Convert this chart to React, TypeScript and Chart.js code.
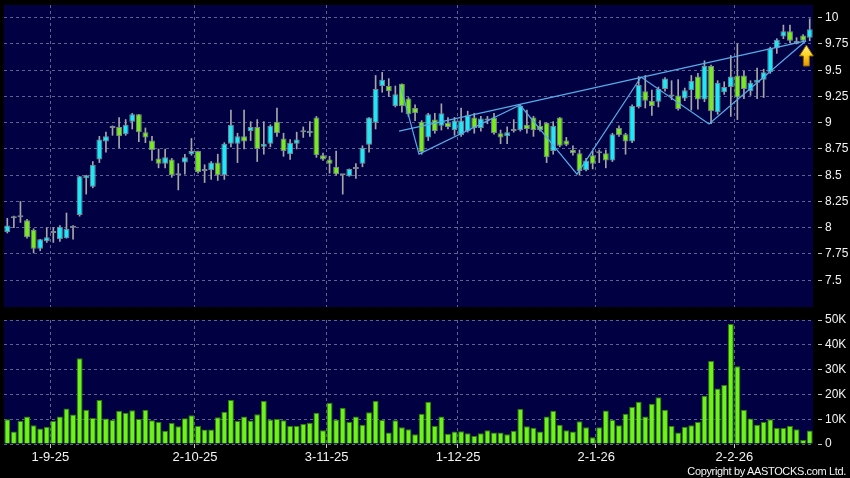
import React, { useEffect, useRef } from 'react';
import { Chart, registerables } from 'chart.js';

Chart.register(...registerables);

// ---------- DATA ----------
const dates = [
  '21-8-25','22-8-25','25-8-25','26-8-25','27-8-25','28-8-25','29-8-25',
  '1-9-25','2-9-25','3-9-25','4-9-25','5-9-25','8-9-25','9-9-25','10-9-25','11-9-25','12-9-25','15-9-25','16-9-25','17-9-25','18-9-25','19-9-25','22-9-25','23-9-25','24-9-25','25-9-25','26-9-25','29-9-25','30-9-25',
  '2-10-25','3-10-25','6-10-25','8-10-25','9-10-25','10-10-25','13-10-25','14-10-25','15-10-25','16-10-25','17-10-25','20-10-25','21-10-25','22-10-25','23-10-25','24-10-25','27-10-25','28-10-25','30-10-25','31-10-25',
  '3-11-25','4-11-25','5-11-25','6-11-25','7-11-25','10-11-25','11-11-25','12-11-25','13-11-25','14-11-25','17-11-25','18-11-25','19-11-25','20-11-25','21-11-25','24-11-25','25-11-25','26-11-25','27-11-25','28-11-25',
  '1-12-25','2-12-25','3-12-25','4-12-25','5-12-25','8-12-25','9-12-25','10-12-25','11-12-25','12-12-25','15-12-25','16-12-25','17-12-25','18-12-25','19-12-25','22-12-25','23-12-25','24-12-25','29-12-25','30-12-25','31-12-25',
  '2-1-26','5-1-26','6-1-26','7-1-26','8-1-26','9-1-26','12-1-26','13-1-26','14-1-26','15-1-26','16-1-26','19-1-26','20-1-26','21-1-26','22-1-26','23-1-26','26-1-26','27-1-26','28-1-26','29-1-26','30-1-26',
  '2-2-26','3-2-26','4-2-26','5-2-26','6-2-26','9-2-26','10-2-26','11-2-26','12-2-26','13-2-26','16-2-26','20-2-26',
];

const tickDates = ['1-9-25', '2-10-25', '3-11-25', '1-12-25', '2-1-26', '2-2-26'];

const opens = [
  7.96, 8.09, 8.10, 8.07, 7.98, 7.80, 7.87, 7.95, 7.89, 7.90,
  8.00, 8.12, 8.47, 8.39, 8.65, 8.82, 8.95, 8.96, 8.89, 9.01,
  9.08, 8.91, 8.83, 8.66, 8.61, 8.65, 8.50, 8.62, 8.70, 8.73,
  8.54, 8.55, 8.62, 8.50, 8.80, 8.80, 8.87, 8.92, 8.96, 8.77,
  8.80, 9.01, 8.85, 8.70, 8.80, 8.91, 8.90, 9.05, 8.69, 8.65,
  8.58, 8.50, 8.49, 8.56, 8.61, 8.79, 9.00, 9.35, 9.35, 9.16,
  9.37, 9.23, 9.14, 9.01, 8.86, 9.03, 8.97, 9.00, 8.93, 8.88,
  8.92, 9.05, 8.95, 9.02, 9.05, 8.90, 8.87, 8.92, 8.93, 8.98,
  9.05, 8.97, 9.00, 8.73, 9.05, 8.83, 8.74, 8.71, 8.55, 8.69,
  8.71, 8.71, 8.64, 8.95, 8.89, 8.82, 9.15, 9.30, 9.21, 9.20,
  9.32, 9.25, 9.26, 9.23, 9.31, 9.44, 9.22, 9.54, 9.10, 9.29,
  9.34, 9.45, 9.45, 9.30, 9.38, 9.41, 9.48, 9.71, 9.82, 9.87,
  9.76, 9.83, 9.81,
];

const highs = [
  8.09, 8.11, 8.25, 8.08, 7.99, 7.89, 8.00, 8.00, 8.02, 8.14,
  8.02, 8.49, 8.50, 8.63, 8.87, 8.91, 8.97, 9.05, 9.03, 9.09,
  9.08, 8.95, 8.87, 8.75, 8.75, 8.66, 8.61, 8.70, 8.85, 8.73,
  8.60, 8.63, 8.70, 8.81, 9.12, 8.90, 9.12, 9.01, 9.03, 9.01,
  8.98, 9.14, 8.90, 8.84, 8.91, 8.96, 9.01, 9.06, 8.71, 8.68,
  8.73, 8.50, 8.56, 8.61, 8.78, 9.05, 9.45, 9.48, 9.42, 9.35,
  9.37, 9.24, 9.17, 9.02, 9.09, 9.09, 9.18, 9.05, 9.05, 9.14,
  9.11, 9.09, 9.06, 9.06, 9.09, 8.93, 8.96, 9.03, 9.17, 9.12,
  9.06, 9.02, 9.00, 9.01, 9.05, 8.86, 8.78, 8.74, 8.66, 8.73,
  8.74, 8.74, 8.90, 8.97, 8.90, 9.17, 9.44, 9.45, 9.31, 9.34,
  9.43, 9.40, 9.41, 9.33, 9.45, 9.47, 9.59, 9.55, 9.40, 9.39,
  9.64, 9.75, 9.49, 9.40, 9.52, 9.51, 9.72, 9.80, 9.93, 9.93,
  9.81, 9.84, 9.99,
];

const lows = [
  7.95, 8.00, 8.05, 7.90, 7.76, 7.78, 7.86, 7.86, 7.87, 7.90,
  7.89, 8.11, 8.32, 8.38, 8.62, 8.72, 8.88, 8.76, 8.88, 8.94,
  8.82, 8.81, 8.64, 8.57, 8.57, 8.48, 8.36, 8.51, 8.69, 8.52,
  8.43, 8.46, 8.45, 8.46, 8.77, 8.62, 8.75, 8.83, 8.63, 8.70,
  8.77, 8.87, 8.68, 8.65, 8.75, 8.86, 8.87, 8.67, 8.64, 8.52,
  8.50, 8.32, 8.49, 8.47, 8.58, 8.72, 8.94, 9.29, 9.25, 9.15,
  9.10, 9.06, 9.02, 8.70, 8.83, 8.90, 8.93, 8.94, 8.88, 8.87,
  8.91, 8.90, 8.92, 8.99, 8.89, 8.80, 8.80, 8.91, 8.92, 8.90,
  8.87, 8.92, 8.62, 8.70, 8.77, 8.78, 8.69, 8.50, 8.54, 8.56,
  8.62, 8.57, 8.63, 8.87, 8.70, 8.81, 9.14, 9.14, 9.07, 9.15,
  9.30, 9.22, 9.12, 9.21, 9.12, 9.13, 9.20, 8.99, 9.08, 9.27,
  9.06, 9.03, 9.23, 9.26, 9.23, 9.24, 9.47, 9.66, 9.80, 9.76,
  9.75, 9.77, 9.78,
];

const closes = [
  8.02, 8.09, 8.10, 7.91, 7.80, 7.89, 7.91, 7.95, 8.01, 7.99,
  8.00, 8.49, 8.50, 8.60, 8.84, 8.87, 8.95, 8.87, 8.98, 9.08,
  8.91, 8.86, 8.74, 8.61, 8.67, 8.50, 8.50, 8.67, 8.73, 8.53,
  8.54, 8.62, 8.50, 8.80, 8.98, 8.87, 8.82, 8.96, 8.75, 8.80,
  8.97, 8.90, 8.73, 8.81, 8.84, 8.91, 8.92, 8.69, 8.65, 8.61,
  8.51, 8.50, 8.56, 8.56, 8.76, 9.05, 9.32, 9.41, 9.30, 9.27,
  9.16, 9.08, 9.09, 8.72, 9.08, 8.92, 9.09, 8.96, 9.02, 9.02,
  9.07, 8.95, 9.04, 9.04, 8.90, 8.86, 8.91, 8.94, 9.16, 8.94,
  8.93, 8.93, 8.67, 8.97, 8.78, 8.79, 8.71, 8.54, 8.64, 8.61,
  8.71, 8.64, 8.89, 8.88, 8.82, 9.16, 9.36, 9.21, 9.16, 9.32,
  9.42, 9.25, 9.13, 9.31, 9.40, 9.22, 9.54, 9.11, 9.38, 9.34,
  9.44, 9.24, 9.32, 9.38, 9.41, 9.48, 9.71, 9.79, 9.87, 9.78,
  9.76, 9.78, 9.89,
];

// volume in thousands of shares
const volumesK = [
  10.0, 5.0, 9.3, 11.1, 7.6, 6.2, 7.0, 9.3, 11.1, 14.3,
  11.9, 34.6, 13.8, 10.5, 17.7, 10.3, 9.7, 13.4, 12.6, 13.6,
  10.1, 13.8, 9.6, 8.9, 5.3, 8.5, 7.2, 10.4, 11.6, 7.3,
  5.8, 5.8, 10.8, 13.0, 17.7, 9.3, 11.1, 9.5, 12.0, 17.3,
  9.9, 10.1, 9.6, 7.3, 7.3, 8.1, 8.6, 12.6, 5.5, 16.6,
  9.9, 14.6, 8.9, 11.1, 7.8, 12.8, 17.3, 9.7, 4.6, 9.6,
  6.8, 5.9, 3.9, 12.2, 17.0, 7.3, 11.1, 4.1, 5.0, 5.1,
  4.3, 3.2, 4.3, 5.5, 4.6, 4.6, 3.9, 5.3, 14.1, 7.2,
  6.6, 5.0, 11.1, 13.4, 7.8, 5.5, 5.0, 9.2, 6.8, 2.7,
  6.8, 13.5, 9.7, 7.6, 12.2, 14.9, 17.0, 11.1, 16.2, 18.9,
  13.8, 7.3, 4.6, 7.0, 7.6, 8.9, 19.5, 33.5, 22.4, 23.8,
  48.4, 31.4, 13.8, 10.3, 7.8, 8.9, 10.0, 6.5, 6.5, 7.3,
  5.9, 1.6, 5.4,
];

const priceTicks = [7.5, 7.75, 8, 8.25, 8.5, 8.75, 9, 9.25, 9.5, 9.75, 10];
const volumeTicks = [0, 10, 20, 30, 40, 50];

// trend lines (x = fractional bar index, y = price)
const zigzagX = [59.8, 62.6, 77.96, 86.62, 96.35, 106.69, 121.44];
const zigzagY = [9.349, 8.701, 9.168, 8.51, 9.435, 8.987, 9.78];
const channelX = [59.56, 121.44];
const channelY = [8.92, 9.78];

// marker arrow (tip position)
const arrowX = 121.49;
const arrowY = 9.74;

// ---------- STYLE ----------
const NAVY = '#000042';
const GRID = '#62628f';
const UP = '#1ee8f8';
const DOWN = '#78ea1e';
const DOJI = '#9a9a9a';
const WICK = '#a6a6a6';
const BODY_BORDER = '#7a8890';
const LINE = '#55acea';
const VOL = '#6ef21a';
const VOL_BORDER = '#2e7c0c';
const TEXT = '#f4f4f4';
const FONT = '"Liberation Sans", Arial, sans-serif';
const TRANSPARENT = 'rgba(0,0,0,0)';

Chart.defaults.font.family = FONT;

const bgPlugin = {
  id: 'plotBg',
  beforeDraw(chart: any) {
    const { ctx, chartArea: a } = chart;
    ctx.save();
    ctx.fillStyle = NAVY;
    ctx.fillRect(a.left, a.top, a.right - a.left, a.bottom - a.top);
    ctx.restore();
  },
};

const arrowPlugin = {
  id: 'arrowMarker',
  afterDatasetsDraw(chart: any) {
    const ctx = chart.ctx;
    const x = chart.scales.xl.getPixelForValue(arrowX);
    const y = chart.scales.y.getPixelForValue(arrowY);
    ctx.save();
    const g = ctx.createLinearGradient(0, y, 0, y + 21);
    g.addColorStop(0, '#fff38a');
    g.addColorStop(0.5, '#ffd21e');
    g.addColorStop(1, '#e89400');
    ctx.beginPath();
    ctx.moveTo(x, y);
    ctx.lineTo(x + 7, y + 11);
    ctx.lineTo(x + 3, y + 11);
    ctx.lineTo(x + 3, y + 21);
    ctx.lineTo(x - 3, y + 21);
    ctx.lineTo(x - 3, y + 11);
    ctx.lineTo(x - 7, y + 11);
    ctx.closePath();
    ctx.fillStyle = g;
    ctx.fill();
    ctx.strokeStyle = '#8a6400';
    ctx.lineWidth = 1;
    ctx.stroke();
    ctx.restore();
  },
};

const xGridColor = (ctx: any) =>
  tickDates.includes(dates[ctx.index]) ? GRID : TRANSPARENT;

function priceConfig(): any {
  const bodyColors = opens.map((o, i) =>
    closes[i] > o ? UP : closes[i] < o ? DOWN : DOJI
  );
  return {
    type: 'bar',
    data: {
      labels: dates,
      datasets: [
        {
          type: 'line',
          xAxisID: 'xl',
          yAxisID: 'y',
          data: channelX.map((x, i) => ({ x, y: channelY[i] })),
          borderColor: LINE,
          borderWidth: 1.2,
          pointRadius: 0,
          order: 0,
        },
        {
          type: 'line',
          xAxisID: 'xl',
          yAxisID: 'y',
          data: zigzagX.map((x, i) => ({ x, y: zigzagY[i] })),
          borderColor: LINE,
          borderWidth: 1.2,
          pointRadius: 0,
          tension: 0,
          order: 0,
        },
        {
          type: 'bar',
          xAxisID: 'x',
          yAxisID: 'y',
          data: opens.map((o, i) => [o, closes[i]]),
          backgroundColor: bodyColors,
          borderColor: BODY_BORDER,
          borderWidth: 1,
          borderSkipped: false,
          minBarLength: 2,
          grouped: false,
          barPercentage: 0.9,
          categoryPercentage: 1,
          order: 1,
        },
        {
          type: 'bar',
          xAxisID: 'x',
          yAxisID: 'y',
          data: lows.map((l, i) => [l, highs[i]]),
          backgroundColor: WICK,
          barThickness: 1,
          grouped: false,
          order: 2,
        },
      ],
    },
    options: {
      responsive: false,
      animation: false,
      events: [],
      layout: { padding: { left: 4, top: 5, right: 0, bottom: 5 } },
      plugins: { legend: { display: false }, tooltip: { enabled: false } },
      scales: {
        x: {
          type: 'category',
          offset: true,
          grid: { offset: true, color: xGridColor, drawTicks: false },
          border: { display: false, dash: [3, 3] },
          ticks: { display: false, autoSkip: false },
          afterFit: (s: any) => {
            s.height = 0;
            s.paddingLeft = 0;
            s.paddingRight = 0;
          },
        },
        xl: {
          type: 'linear',
          display: false,
          offset: false,
          bounds: 'data',
          min: -0.5,
          max: dates.length - 0.5,
          afterBuildTicks: (s: any) => {
            s.min = -0.5;
            s.max = dates.length - 0.5;
          },
        },
        y: {
          type: 'linear',
          position: 'right',
          min: 7.245,
          max: 10.121,
          afterBuildTicks: (s: any) => {
            s.ticks = priceTicks.map((v) => ({ value: v }));
          },
          grid: {
            color: GRID,
            tickColor: '#c8c8c8',
            tickLength: 9,
            tickBorderDash: [0, 5, 4, 20],
          },
          border: { display: false, dash: [3, 3] },
          ticks: {
            color: TEXT,
            padding: 3,
            font: { family: FONT, size: 12 },
            callback: (v: any) => String(v),
          },
          afterFit: (s: any) => {
            s.width = 37;
            s.paddingTop = 0;
            s.paddingBottom = 0;
          },
        },
      },
    },
    plugins: [bgPlugin, arrowPlugin],
  };
}

function volumeConfig(): any {
  return {
    type: 'bar',
    data: {
      labels: dates,
      datasets: [
        {
          data: volumesK,
          backgroundColor: VOL,
          borderColor: VOL_BORDER,
          borderWidth: 1,
          barPercentage: 0.9,
          categoryPercentage: 1,
        },
      ],
    },
    options: {
      responsive: false,
      animation: false,
      events: [],
      layout: { padding: { left: 4, top: 8, right: 0, bottom: 0 } },
      plugins: { legend: { display: false }, tooltip: { enabled: false } },
      scales: {
        x: {
          type: 'category',
          offset: true,
          grid: {
            offset: true,
            color: xGridColor,
            tickLength: 4,
            tickColor: (c: any) =>
              tickDates.includes(dates[c.index]) ? '#c8c8c8' : TRANSPARENT,
          },
          border: { display: false, dash: [3, 3] },
          ticks: {
            autoSkip: false,
            maxRotation: 0,
            minRotation: 0,
            color: TEXT,
            padding: 2,
            labelOffset: -3,
            font: { family: FONT, size: 13 },
            callback: (_v: any, i: number) =>
              tickDates.includes(dates[i]) ? dates[i] : '',
          },
          afterFit: (s: any) => {
            s.height = 34;
            s.paddingLeft = 0;
            s.paddingRight = 0;
          },
        },
        y: {
          type: 'linear',
          position: 'right',
          min: 0,
          max: 50,
          afterBuildTicks: (s: any) => {
            s.ticks = volumeTicks.map((v) => ({ value: v }));
          },
          grid: {
            color: GRID,
            tickColor: '#c8c8c8',
            tickLength: 9,
            tickBorderDash: [0, 5, 4, 20],
          },
          border: { display: false, dash: [3, 3] },
          ticks: {
            color: TEXT,
            padding: 3,
            font: { family: FONT, size: 12 },
            callback: (v: any) => (v === 0 ? '0' : v + 'K'),
          },
          afterFit: (s: any) => {
            s.width = 37;
            s.paddingTop = 0;
            s.paddingBottom = 0;
          },
        },
      },
    },
    plugins: [bgPlugin],
  };
}

export default function App() {
  const priceRef = useRef<HTMLCanvasElement>(null);
  const volRef = useRef<HTMLCanvasElement>(null);

  useEffect(() => {
    const pc = new Chart(priceRef.current as HTMLCanvasElement, priceConfig());
    const vc = new Chart(volRef.current as HTMLCanvasElement, volumeConfig());
    return () => {
      pc.destroy();
      vc.destroy();
    };
  }, []);

  return (
    <div
      style={{
        position: 'absolute',
        left: 0,
        top: 0,
        width: 850,
        height: 478,
        background: '#000',
        overflow: 'hidden',
      }}
    >
      <canvas
        ref={priceRef}
        width={850}
        height={312}
        style={{ position: 'absolute', left: 0, top: 0, width: 850, height: 312 }}
      />
      <canvas
        ref={volRef}
        width={850}
        height={166}
        style={{ position: 'absolute', left: 0, top: 312, width: 850, height: 166 }}
      />
      <div
        style={{
          position: 'absolute',
          right: 4,
          top: 465,
          color: TEXT,
          fontFamily: FONT,
          fontSize: 11,
          lineHeight: '12px',
          letterSpacing: '-0.35px',
          whiteSpace: 'nowrap',
        }}
      >
        Copyright by AASTOCKS.com Ltd.
      </div>
    </div>
  );
}
